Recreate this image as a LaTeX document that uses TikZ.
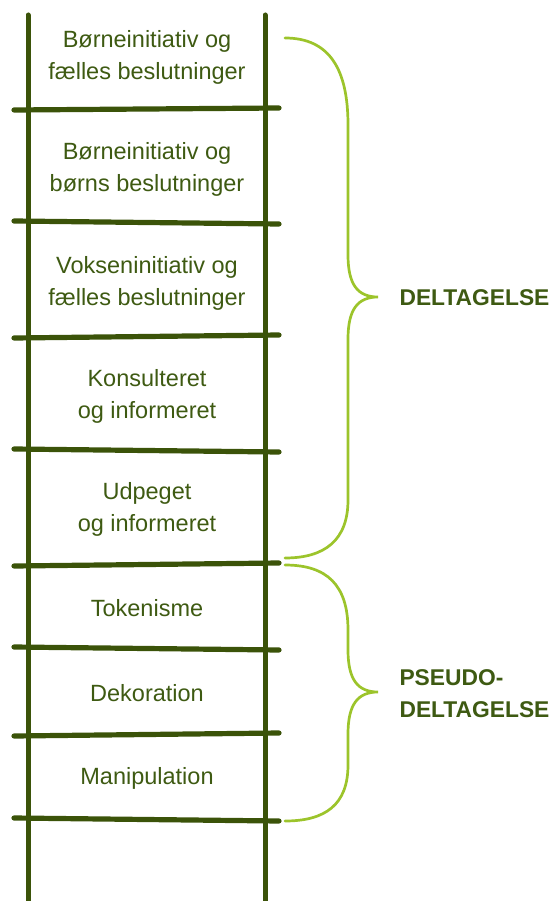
\documentclass[tikz,border=0pt]{standalone}
\usepackage{fontspec}
\setmainfont{Liberation Sans}
\definecolor{ladder}{HTML}{3B5309}
\definecolor{txt}{HTML}{3E5A12}
\definecolor{brace}{HTML}{9CC42B}
\begin{document}
\begin{tikzpicture}[x=1pt,y=-1pt,
  rail/.style={draw=ladder,line width=5pt},
  rung/.style={draw=ladder,line width=5.2pt,line cap=round},
  brc/.style={draw=brace,line width=2.7pt,line cap=round},
  lbl/.style={text=txt,align=center,font=\fontsize{23.5}{32}\selectfont},
  grp/.style={text=txt,align=left,anchor=west,font=\fontsize{22.8}{32}\selectfont\bfseries}]
\useasboundingbox (0,0) rectangle (551,901);
% rails
\coordinate (lt) at (28,15); \coordinate (lb) at (28,901);
\coordinate (rt) at (265,15); \coordinate (rb) at (265,901);
\draw[rail,line cap=round] (lt) -- (28,880);
\draw[rail] (28,880) -- (lb);
\draw[rail,line cap=round] (rt) -- (265,880);
\draw[rail] (265,880) -- (rb);
% rungs
\foreach \i/\a/\b in {1/110/108, 2/221/224, 3/338/335, 4/449/452, 5/566/563, 6/647/650, 7/736/733, 8/818/821}{
  \coordinate (rl\i) at (14,\a);
  \coordinate (rr\i) at (279,\b);
  \draw[rung] (rl\i) -- (rr\i);
}
% labels
\node[lbl] (t1) at (147,57) {Børneinitiativ og\\fælles beslutninger};
\node[lbl] (t2) at (147,169) {Børneinitiativ og\\børns beslutninger};
\node[lbl] (t3) at (147,283) {Vokseninitiativ og\\fælles beslutninger};
\node[lbl] (t4) at (147,396) {Konsulteret\\og informeret};
\node[lbl] (t5) at (147,509) {Udpeget\\og informeret};
\node[lbl] (t6) at (147,608) {Tokenisme};
\node[lbl] (t7) at (147,693) {Dekoration};
\node[lbl] (t8) at (147,778) {Manipulation};
% braces
\coordinate (b1s) at (285,38);
\coordinate (b1t) at (378,297);
\coordinate (b1e) at (285,558);
\draw[brc] (b1s) .. controls (330,38) and (348,70) .. (348,125)
  -- (348,255) .. controls (348,285) and (358,297) .. (b1t)
  .. controls (358,297) and (348,309) .. (348,339)
  -- (348,500) .. controls (348,540) and (325,558) .. (b1e);
\coordinate (b2s) at (285,565);
\coordinate (b2t) at (378,692);
\coordinate (b2e) at (285,821);
\draw[brc] (b2s) .. controls (327,565) and (348,585) .. (348,630)
  -- (348,650) .. controls (348,680) and (358,692) .. (b2t)
  .. controls (358,692) and (348,704) .. (348,734)
  -- (348,765) .. controls (348,805) and (325,821) .. (b2e);
\node[grp] (g1) at (396,298) {DELTAGELSE};
\node[grp] (g2) at (396,694) {PSEUDO-\\DELTAGELSE};
\end{tikzpicture}
\end{document}
